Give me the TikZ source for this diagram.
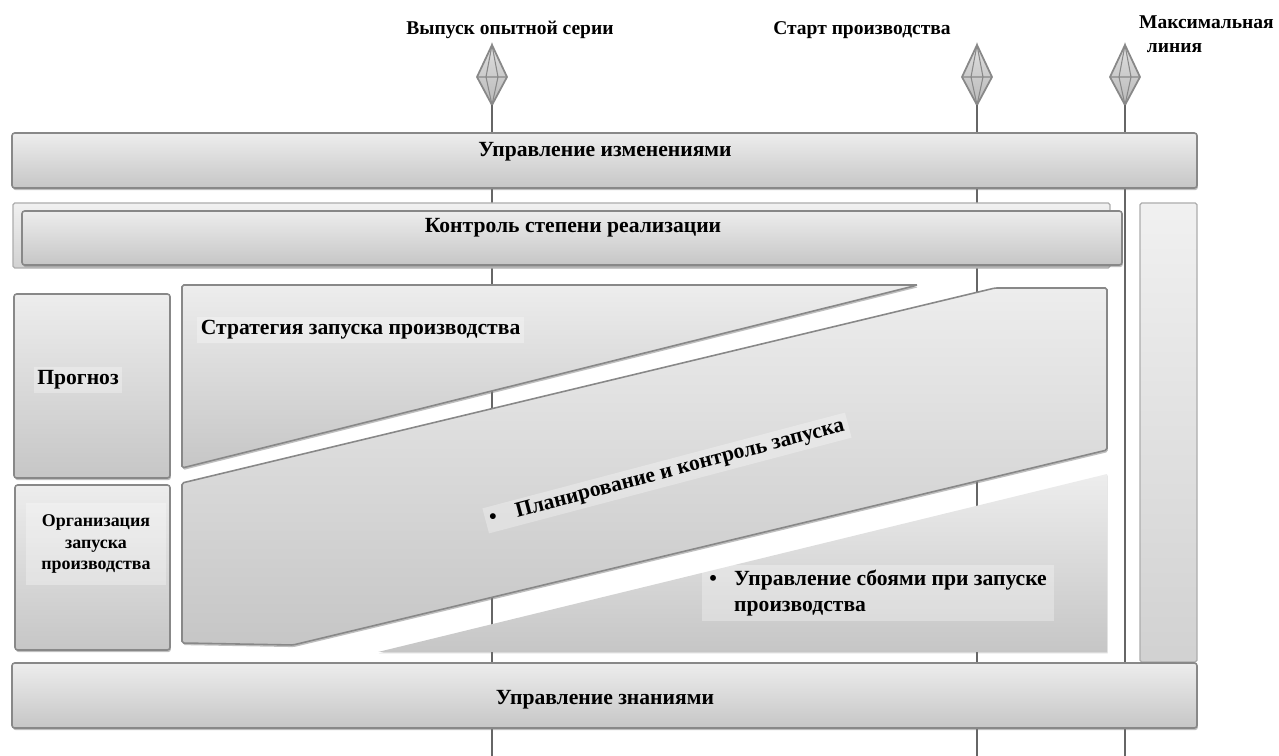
\documentclass[tikz,border=0pt]{standalone}
\usepackage{fontspec}
\setmainfont{Liberation Serif}
\usetikzlibrary{shadows}
\definecolor{edgegray}{HTML}{888888}
\definecolor{lightgray}{HTML}{EDEDED}
\definecolor{darkgray}{HTML}{C6C6C6}
\tikzset{
  bar/.style={draw=edgegray, line width=0.9pt, rounded corners=1.5pt,
    top color=lightgray, bottom color=darkgray,
    drop shadow={shadow xshift=0.5pt, shadow yshift=-1.2pt, opacity=0.5}},
  flatbar/.style={draw=edgegray!70, line width=0.7pt, rounded corners=1pt,
    top color=lightgray!80!white, bottom color=darkgray!80!white},
  softbar/.style={draw=none, top color=lightgray, bottom color=darkgray,
    drop shadow={shadow xshift=0.4pt, shadow yshift=-0.8pt, opacity=0.3}},
  timeline/.style={draw=gray!80!black, line width=1pt},
  gem/.style={draw=edgegray, line width=1pt, top color=gray!25, bottom color=gray!55},
  gemline/.style={draw=edgegray, line width=0.6pt},
  lbl/.style={font=\bfseries\fontsize{12.3}{14}\selectfont, inner sep=1pt},
  hilite/.style={lbl, fill=white, fill opacity=0.3, text opacity=1, inner sep=2pt},
  milestone/.style={lbl, font=\bfseries\fontsize{11.1}{13.6}\selectfont}
}
\newcommand{\bulletgap}{\textbullet\hspace{0.8em}}
\newcommand{\drawgem}[2]{
  \coordinate (#2) at (#1,105);
  \path[gem] (#1,45) -- (#1-15,77) -- (#1,105) -- (#1+15,77) -- cycle;
  \draw[gemline] (#1,45) -- (#1-6,77) -- (#1,105) -- (#1+6,77) -- cycle
    (#1-15,77) -- (#1+15,77);
}
\begin{document}
\begin{tikzpicture}[x=0.02cm,y=-0.02cm]
  \useasboundingbox (0,0) rectangle (1279,756);

  % milestones
  \drawgem{492}{pilot}
  \drawgem{977}{start}
  \drawgem{1125}{maxline}
  \coordinate (pilotend) at (492,756);
  \coordinate (startend) at (977,756);
  \coordinate (maxend) at (1125,756);
  \draw[timeline] (pilot) -- (pilotend);
  \draw[timeline] (start) -- (startend);
  \draw[timeline] (maxline) -- (maxend);
  \node[milestone] (pilotlbl) at (510,30) {Выпуск опытной серии};
  \node[milestone] (startlbl) at (862,30) {Старт производства};
  \node[milestone, anchor=north west, align=left] (maxlbl) at (1137,14)
    {Максимальная\\\hspace{0.4em}линия};

  % bars
  \path[bar] (12,133) rectangle (1197,188);
  \node[lbl] (changes) at (605,152) {Управление изменениями};
  \path[flatbar] (13,203) rectangle (1110,268);
  \path[bar] (22,211) rectangle (1122,265);
  \node[lbl] (control) at (573,228) {Контроль степени реализации};
  \path[flatbar] (1140,203) rectangle (1197,662);

  % left column
  \path[bar] (14,294) rectangle (170,478);
  \node[hilite] (forecast) at (78,380) {Прогноз};
  \path[bar] (15,485) rectangle (170,650);
  \node[hilite, align=center, minimum width=140*0.02cm, minimum height=82*0.02cm,
    font=\bfseries\fontsize{10.2}{12}\selectfont] (org) at (96,544)
    {Организация\\запуска\\производства};

  % slanted blocks
  \path[bar, rounded corners=1pt] (182,468) -- (182,285) -- (918,285) -- cycle;
  \node[hilite, anchor=west] (strategy) at (197,330) {Стратегия запуска производства};
  \path[bar, rounded corners=1pt] (182,483) -- (995,288) -- (1107,288)
    -- (1107,450) -- (293,645) -- (182,643) -- cycle;
  \node[hilite, rotate=14.8, minimum width=375*0.02cm] (plan) at (667,473)
    {\textbullet\hspace{0.9em}Планирование и контроль запуска};
  \path[softbar] (378,652) -- (1107,474) -- (1107,652) -- cycle;
  \node[hilite, anchor=west, align=left, inner ysep=3pt, inner xsep=4pt,
    font=\bfseries\fontsize{12.3}{15}\selectfont] (failures) at (702,593)
    {\bulletgap Управление сбоями при запуске\\\phantom{\bulletgap}производства};

  \path[bar] (12,663) rectangle (1197,728);
  \node[lbl] (knowledge) at (605,700) {Управление знаниями};
\end{tikzpicture}
\end{document}
